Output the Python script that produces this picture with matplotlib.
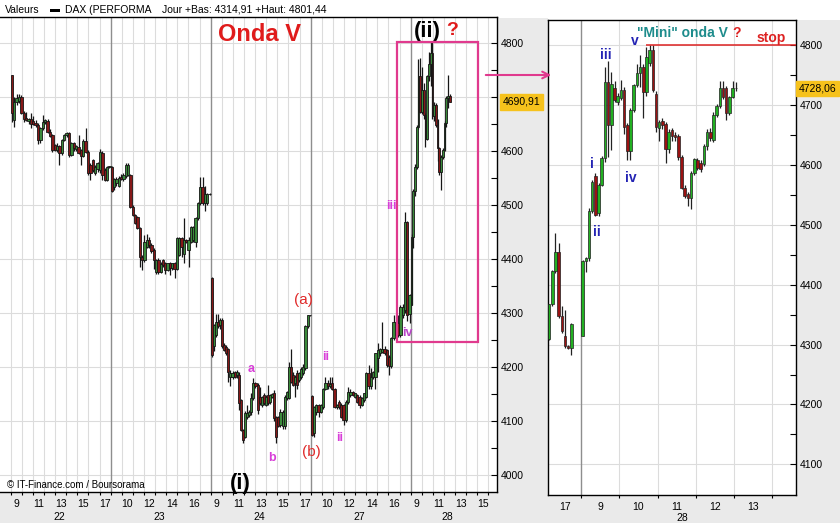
import matplotlib
matplotlib.use('Agg')
import matplotlib.pyplot as plt
import numpy as np
from matplotlib.patches import Rectangle, FancyArrowPatch
from matplotlib.transforms import blended_transform_factory

# ---------------- data (O, H, L, C) ----------------
day22 = [
    (4741, 4741, 4654, 4670), (4657, 4700, 4645, 4690), (4690, 4706, 4686, 4698),
    (4692, 4706, 4688, 4700), (4700, 4704, 4668, 4670), (4670, 4674, 4654, 4660),
    (4662, 4673, 4655, 4657), (4656, 4662, 4650, 4660), (4660, 4670, 4642, 4650),
    (4655, 4664, 4648, 4650), (4652, 4658, 4645, 4648), (4648, 4652, 4613, 4620),
    (4620, 4645, 4615, 4642), (4642, 4667, 4638, 4654), (4654, 4660, 4650, 4657),
    (4656, 4660, 4634, 4636), (4636, 4640, 4625, 4627), (4630, 4632, 4598, 4602),
    (4611, 4613, 4600, 4602), (4602, 4614, 4598, 4610), (4610, 4612, 4574, 4596),
    (4596, 4622, 4592, 4620), (4620, 4632, 4618, 4630), (4630, 4636, 4626, 4633),
    (4633, 4635, 4588, 4593), (4593, 4616, 4590, 4614), (4614, 4617, 4600, 4605),
    (4603, 4612, 4600, 4610), (4608, 4630, 4594, 4596), (4602, 4604, 4574, 4591),
    (4591, 4622, 4588, 4619), (4619, 4642, 4596, 4599), (4599, 4601, 4555, 4559),
    (4574, 4578, 4546, 4560), (4583, 4586, 4562, 4565), (4560, 4574, 4556, 4571),
    (4566, 4580, 4562, 4578), (4565, 4603, 4560, 4599), (4597, 4600, 4546, 4555),
    (4565, 4568, 4544, 4546), (4546, 4573, 4544, 4571), (4571, 4573, 4568, 4571),
]
day23 = [
    (4571, 4573, 4524, 4525), (4534, 4550, 4528, 4549), (4540, 4552, 4535, 4548),
    (4536, 4553, 4533, 4550), (4552, 4558, 4546, 4549), (4549, 4560, 4545, 4555),
    (4554, 4577, 4550, 4574), (4556, 4578, 4553, 4574), (4555, 4557, 4495, 4497),
    (4497, 4500, 4479, 4481), (4481, 4484, 4464, 4466), (4478, 4480, 4455, 4457),
    (4457, 4459, 4386, 4404), (4404, 4408, 4380, 4398), (4398, 4444, 4395, 4432),
    (4423, 4446, 4420, 4435), (4435, 4440, 4420, 4425), (4426, 4430, 4412, 4414),
    (4417, 4420, 4382, 4398), (4375, 4400, 4372, 4398), (4398, 4402, 4373, 4376),
    (4376, 4395, 4374, 4390), (4398, 4400, 4385, 4389), (4392, 4395, 4373, 4380),
    (4380, 4393, 4378, 4392), (4393, 4395, 4370, 4383), (4383, 4393, 4380, 4392),
    (4392, 4394, 4364, 4382), (4382, 4440, 4380, 4438), (4407, 4440, 4405, 4438),
    (4438, 4440, 4404, 4423), (4410, 4475, 4392, 4435), (4435, 4437, 4430, 4432),
    (4417, 4440, 4386, 4435), (4432, 4462, 4430, 4460), (4435, 4462, 4432, 4460),
    (4432, 4478, 4422, 4475), (4475, 4505, 4472, 4503), (4503, 4552, 4500, 4534),
    (4534, 4552, 4500, 4503), (4503, 4535, 4488, 4521), (4503, 4523, 4500, 4521),
    (4520, 4522, 4518, 4520),
]
day24 = [
    (4364, 4366, 4218, 4222), (4238, 4280, 4230, 4278), (4259, 4299, 4255, 4284),
    (4284, 4299, 4272, 4275), (4278, 4290, 4270, 4287), (4287, 4290, 4236, 4238),
    (4241, 4244, 4230, 4232), (4237, 4240, 4222, 4225), (4234, 4236, 4173, 4191),
    (4182, 4195, 4164, 4188), (4182, 4192, 4178, 4188), (4190, 4192, 4180, 4182),
    (4185, 4195, 4180, 4191), (4185, 4190, 4120, 4133), (4139, 4141, 4081, 4083),
    (4083, 4085, 4059, 4065), (4071, 4118, 4068, 4114), (4108, 4130, 4104, 4114),
    (4111, 4120, 4108, 4117), (4117, 4151, 4112, 4142), (4142, 4179, 4138, 4170),
    (4170, 4172, 4162, 4164), (4167, 4170, 4113, 4120), (4145, 4163, 4130, 4133),
    (4129, 4146, 4125, 4145), (4148, 4152, 4130, 4133), (4130, 4148, 4128, 4145),
    (4148, 4167, 4130, 4133), (4135, 4150, 4132, 4148), (4145, 4152, 4142, 4150),
    (4151, 4157, 4100, 4105), (4108, 4110, 4059, 4071), (4108, 4110, 4088, 4090),
    (4092, 4123, 4088, 4117), (4090, 4120, 4085, 4117), (4090, 4148, 4086, 4145),
    (4142, 4155, 4138, 4154), (4142, 4210, 4140, 4200), (4200, 4234, 4170, 4173),
    (4185, 4190, 4165, 4167), (4170, 4185, 4145, 4182), (4188, 4195, 4160, 4167),
    (4176, 4190, 4172, 4188), (4182, 4200, 4178, 4197), (4188, 4205, 4186, 4200),
    (4198, 4278, 4195, 4275), (4275, 4297, 4272, 4296), (4296, 4297, 4294, 4296),
]
day27 = [
    (4146, 4148, 4072, 4074), (4077, 4128, 4071, 4126), (4117, 4132, 4112, 4130),
    (4130, 4132, 4108, 4117), (4117, 4132, 4114, 4130), (4126, 4162, 4122, 4160),
    (4160, 4182, 4158, 4170), (4170, 4175, 4160, 4164), (4164, 4182, 4162, 4168),
    (4170, 4182, 4158, 4160), (4160, 4162, 4124, 4126), (4126, 4132, 4122, 4130),
    (4135, 4138, 4122, 4126), (4130, 4133, 4105, 4108), (4130, 4132, 4093, 4102),
    (4102, 4138, 4098, 4136), (4136, 4163, 4132, 4154), (4148, 4160, 4145, 4154),
    (4154, 4156, 4146, 4148), (4145, 4152, 4142, 4151), (4148, 4150, 4134, 4136),
    (4145, 4148, 4124, 4130), (4130, 4145, 4128, 4142), (4139, 4152, 4136, 4151),
    (4145, 4190, 4142, 4188), (4188, 4204, 4160, 4164), (4164, 4198, 4160, 4182),
    (4182, 4193, 4178, 4191), (4182, 4226, 4160, 4225), (4216, 4244, 4191, 4231),
    (4225, 4236, 4220, 4234), (4228, 4284, 4225, 4234), (4234, 4238, 4222, 4225),
    (4231, 4234, 4200, 4204), (4219, 4222, 4185, 4201), (4201, 4255, 4198, 4253),
    (4253, 4296, 4250, 4284), (4259, 4286, 4255, 4284), (4281, 4296, 4255, 4259),
    (4259, 4314, 4256, 4312), (4296, 4316, 4290, 4312), (4305, 4487, 4300, 4468),
    (4468, 4470, 4285, 4296), (4298, 4336, 4282, 4333),
]
day28 = [
    (4315, 4447, 4314, 4440), (4440, 4530, 4421, 4525), (4525, 4575, 4517, 4571),
    (4571, 4648, 4566, 4645), (4645, 4771, 4640, 4739), (4739, 4773, 4670, 4673),
    (4673, 4756, 4668, 4713), (4713, 4726, 4660, 4666), (4666, 4670, 4608, 4623),
    (4623, 4740, 4620, 4738), (4738, 4784, 4730, 4762), (4762, 4802, 4720, 4781),
    (4781, 4801, 4660, 4664), (4664, 4690, 4655, 4685), (4685, 4688, 4645, 4648),
    (4648, 4660, 4582, 4605), (4605, 4608, 4556, 4562), (4562, 4592, 4528, 4589),
    (4589, 4605, 4585, 4602), (4602, 4655, 4600, 4651), (4651, 4701, 4645, 4698),
    (4698, 4741, 4680, 4701), (4701, 4705, 4690, 4691),
]
left_days = [day22, day23, day24, day27, day28]
left_day_labels = ['22', '23', '24', '27', '28']
left_hour_labels = ['9', '11', '13', '15', '17', '10', '12', '14', '16',
                    '9', '11', '13', '15', '17', '10', '12', '14', '16',
                    '9', '11', '13', '15']
left_price_ticks = [4000, 4100, 4200, 4300, 4400, 4500, 4600, 4700, 4800]

# right panel (zoom): tail of the 27th and morning of the 28th
zoom27 = [
    (4310, 4368, 4308, 4367), (4367, 4425, 4365, 4423), (4423, 4487, 4420, 4455),
    (4455, 4470, 4345, 4348), (4348, 4365, 4320, 4323), (4315, 4358, 4295, 4297),
    (4297, 4299, 4293, 4295), (4295, 4336, 4282, 4335),
]
zoom28 = [
    (4315, 4442, 4315, 4439), (4439, 4447, 4421, 4444), (4444, 4528, 4440, 4524),
    (4524, 4575, 4520, 4571), (4581, 4586, 4515, 4517), (4520, 4570, 4515, 4567),
    (4567, 4615, 4565, 4612), (4612, 4764, 4605, 4739), (4739, 4773, 4614, 4667),
    (4667, 4756, 4625, 4736), (4728, 4740, 4705, 4709), (4706, 4720, 4700, 4715),
    (4712, 4742, 4708, 4726), (4726, 4730, 4652, 4664), (4667, 4670, 4608, 4623),
    (4623, 4695, 4608, 4692), (4692, 4736, 4688, 4734), (4734, 4768, 4730, 4753),
    (4753, 4784, 4730, 4764), (4764, 4768, 4678, 4722), (4722, 4798, 4715, 4781),
    (4770, 4801, 4765, 4792), (4792, 4801, 4722, 4726), (4719, 4724, 4655, 4663),
    (4662, 4676, 4640, 4672), (4674, 4678, 4660, 4667), (4669, 4672, 4603, 4626),
    (4626, 4660, 4620, 4656), (4658, 4662, 4640, 4648), (4650, 4655, 4640, 4647),
    (4649, 4652, 4608, 4614), (4614, 4617, 4560, 4562), (4562, 4566, 4545, 4548),
    (4551, 4555, 4531, 4545), (4545, 4590, 4527, 4587), (4587, 4612, 4584, 4610),
    (4608, 4612, 4592, 4595), (4604, 4608, 4588, 4593), (4601, 4635, 4598, 4631),
    (4631, 4660, 4625, 4656), (4656, 4662, 4640, 4645), (4642, 4688, 4638, 4684),
    (4684, 4702, 4680, 4698), (4698, 4740, 4695, 4728), (4728, 4740, 4710, 4714),
    (4728, 4732, 4676, 4687), (4687, 4716, 4684, 4714), (4714, 4740, 4712, 4728),
    (4728, 4738, 4724, 4728),
]
right_hour_labels = ['17', '9', '10', '11', '12', '13']
right_price_ticks = [4100, 4200, 4300, 4400, 4500, 4600, 4700, 4800]
last_left = 4690.91
last_right = 4728.06
stop_level = 4800

# ---------------- layout helpers ----------------
W, H = 840, 523
def fx(p): return p / W
def fy(p): return 1 - p / H

plt.rcParams['font.family'] = ['Liberation Sans', 'DejaVu Sans']
fig = plt.figure(figsize=(8.4, 5.23), dpi=100, facecolor='white')

GRAY = '#EAEAEA'
for (x0, y0, x1, y1) in [(497, 17.5, 548, 523), (0, 492, 497, 523),
                         (796, 20, 840, 523), (548, 495, 796, 523)]:
    fig.patches.append(Rectangle((fx(x0), fy(y1)), (x1 - x0) / W, (y1 - y0) / H,
                                 transform=fig.transFigure, facecolor=GRAY,
                                 edgecolor='none', zorder=-5))

ax = fig.add_axes([0, fy(492), 497 / W, (492 - 17.5) / H])
ax2 = fig.add_axes([fx(548), fy(495), 248 / W, 475 / H])

GRID = '#DCDCDC'
SEP = '#8E8E8E'
TICKFS = 7.5


def candles(a, xs, data, width, up, down, edge, elw):
    d = np.array(data, dtype=float)
    o, h, l, c = d[:, 0], d[:, 1], d[:, 2], d[:, 3]
    a.vlines(xs, l, h, color=edge, lw=0.9, zorder=2)
    cols = np.where(c >= o, up, down)
    bottoms = np.minimum(o, c)
    heights = np.maximum(np.abs(c - o), 1.2)
    a.bar(xs, heights, width, bottom=bottoms, color=cols, edgecolor=edge,
          linewidth=elw, zorder=3)


# ---------------- left panel ----------------
DAYLEN = 9.0
XL = (-0.96, 43.77)
ax.set_xlim(*XL)
ax.set_ylim(3968.5, 4847.2)

for y in left_price_ticks:
    ax.axhline(y, color=GRID, lw=0.8, zorder=0)
for k in range(5):
    for j in range(9):
        x = k * DAYLEN + j
        if x > XL[1]:
            continue
        if j == 0 and k > 0:
            ax.axvline(x, color=SEP, lw=1.0, zorder=1)
        else:
            ax.axvline(x, color=GRID, lw=0.8, zorder=0)

for k, day in enumerate(left_days):
    n = len(day)
    span = DAYLEN if k < 4 else 3.6
    step = span / n
    xs = k * DAYLEN + (np.arange(n) + 0.5) * step
    candles(ax, xs, day, step * 1.0, '#3A8A3A', '#861818', '#161616', 0.6)

ax.spines['left'].set_visible(False)
for s in ['top', 'right', 'bottom']:
    ax.spines[s].set_color('black')
    ax.spines[s].set_linewidth(1.0)

ax.yaxis.tick_right()
ax.set_yticks(left_price_ticks)
# the 4700 label is hidden behind the last-price box in the reference
ax.set_yticklabels(['' if v == 4700 else str(v) for v in left_price_ticks], fontsize=TICKFS)
ax.set_yticks([v + 50 for v in left_price_ticks[:-1]], minor=True)
ax.tick_params(axis='y', which='both', direction='in', length=4, width=0.8, pad=3)

hour_ticks = [k * DAYLEN + j for k in range(5) for j in range(9) if k * DAYLEN + j <= XL[1]]
ax.set_xticks([0.5 + 2 * i for i in range(len(left_hour_labels))])
ax.set_xticklabels(left_hour_labels, fontsize=TICKFS)
ax.set_xticks(hour_ticks, minor=True)
ax.tick_params(axis='x', which='major', length=0, pad=5)
ax.tick_params(axis='x', which='minor', direction='out', length=2.5, width=0.8)

bt = blended_transform_factory(ax.transData, ax.transAxes)
day_pos = [4.4, 13.4, 22.4, 31.4, 39.3]
for p, lab in zip(day_pos, left_day_labels):
    ax.text(p, -0.052, lab, transform=bt, ha='center', va='center',
            fontsize=TICKFS, clip_on=False)

bty = blended_transform_factory(ax.transAxes, ax.transData)
ax.text(1.012, last_left, '4690,91', transform=bty, ha='left', va='center',
        fontsize=TICKFS, clip_on=False, zorder=10,
        bbox=dict(boxstyle='square,pad=0.25', fc='#F6C21C', ec='#F6C21C'))

RED = '#E01B1B'
MAG = '#D83ED8'
ax.text(22.39, 4816, 'Onda V', color=RED, fontsize=17, fontweight='bold',
        ha='center', va='center')
ax.text(37.52, 4822, '(ii)', color='black', fontsize=16, fontweight='bold',
        ha='center', va='center', clip_on=False)
ax.text(39.72, 4823, '?', color=RED, fontsize=14, fontweight='bold',
        ha='center', va='center')
ax.text(20.64, 3985, '(i)', color='black', fontsize=16, fontweight='bold',
        ha='center', va='center', clip_on=False, zorder=6)
ax.text(26.31, 4324, '(a)', color='#E02A2A', fontsize=11, ha='center', va='center')
ax.text(27.03, 4042, '(b)', color='#E02A2A', fontsize=11, ha='center', va='center')
ax.text(21.63, 4196, 'a', color=MAG, fontsize=9, fontweight='bold', ha='center', va='center')
ax.text(23.52, 4031, 'b', color=MAG, fontsize=9, fontweight='bold', ha='center', va='center')
ax.text(28.38, 4218, 'ii', color=MAG, fontsize=9, fontweight='bold', ha='center', va='center')
ax.text(29.64, 4068, 'ii', color=MAG, fontsize=9, fontweight='bold', ha='center', va='center')
ax.text(34.25, 4498, 'iii', color=MAG, fontsize=9, fontweight='bold', ha='center',
        va='center', zorder=7)
ax.text(35.67, 4263, 'iv', color='#B844C8', fontsize=9, fontweight='bold', ha='center',
        va='center', zorder=7)

PINK = '#E03A8E'
ax.add_patch(Rectangle((34.8, 4247), 42.09 - 34.8, 4802.4 - 4247, fill=False,
                       edgecolor=PINK, lw=1.6, zorder=5))

# ---------------- right panel ----------------
XR = (-0.862, 5.614)
ax2.set_xlim(*XR)
ax2.set_ylim(4048.7, 4842.3)
for y in right_price_ticks:
    ax2.axhline(y, color=GRID, lw=0.8, zorder=0)
for j in range(0, 6):
    ax2.axvline(j, color=SEP if j == 0 else GRID, lw=1.0 if j == 0 else 0.8,
                zorder=1 if j == 0 else 0)

xs27 = -0.835 + np.arange(len(zoom27)) / 12.0
xs28 = (np.arange(len(zoom28)) + 0.5) / 12.0
candles(ax2, xs27, zoom27, 0.8 / 12, '#22B022', '#9A1212', '#222222', 0.5)
candles(ax2, xs28, zoom28, 0.8 / 12, '#22B022', '#9A1212', '#222222', 0.5)

for s in ax2.spines.values():
    s.set_color('black')
    s.set_linewidth(1.0)

ax2.yaxis.tick_right()
ax2.set_yticks(right_price_ticks)
ax2.set_yticklabels([str(v) for v in right_price_ticks], fontsize=TICKFS)
ax2.set_yticks([v + 50 for v in right_price_ticks[:-1]], minor=True)
ax2.tick_params(axis='y', which='both', direction='in', length=4, width=0.8, pad=3)
ax2.set_xticks([-0.42, 0.5, 1.5, 2.5, 3.5, 4.5])
ax2.set_xticklabels(right_hour_labels, fontsize=TICKFS)
ax2.set_xticks([0, 1, 2, 3, 4, 5], minor=True)
ax2.tick_params(axis='x', which='major', length=0, pad=5)
ax2.tick_params(axis='x', which='minor', direction='out', length=2.5, width=0.8)
bt2 = blended_transform_factory(ax2.transData, ax2.transAxes)
ax2.text(2.65, -0.048, '28', transform=bt2, ha='center', va='center',
         fontsize=TICKFS, clip_on=False)

bty2 = blended_transform_factory(ax2.transAxes, ax2.transData)
ax2.text(1.012, last_right, '4728,06', transform=bty2, ha='left', va='center',
         fontsize=TICKFS, clip_on=False, zorder=10,
         bbox=dict(boxstyle='square,pad=0.25', fc='#F6C21C', ec='#F6C21C'))

ax2.hlines(stop_level, 1.70, XR[1], color='#DD2222', lw=1.1, zorder=4)
ax2.text(2.66, 4820, '"Mini" onda V', color='#1E8C8C', fontsize=10,
         fontweight='bold', ha='center', va='center')
ax2.text(4.05, 4820, '?', color='#DD2222', fontsize=10, fontweight='bold',
         ha='center', va='center')
ax2.text(4.96, 4812, 'stop', color='#DD2222', fontsize=10, fontweight='bold',
         ha='center', va='center')
BLUE = '#2424B4'
for (x, y, t) in [(1.41, 4807, 'v'), (0.65, 4784, 'iii'), (0.29, 4602, 'i'),
                  (0.42, 4488, 'ii'), (1.31, 4578, 'iv')]:
    ax2.text(x, y, t, color=BLUE, fontsize=10, fontweight='bold',
             ha='center', va='center', zorder=6)

# ---------------- header / figure-level items ----------------
fig.text(fx(5), fy(10), 'Valeurs', fontsize=TICKFS, va='center', ha='left')
fig.patches.append(Rectangle((fx(50), fy(12)), 10 / W, 3 / H,
                             transform=fig.transFigure, facecolor='black',
                             edgecolor='none', zorder=3))
fig.text(fx(65), fy(10), 'DAX (PERFORMA', fontsize=TICKFS, va='center', ha='left')
fig.text(fx(162), fy(10), 'Jour +Bas: 4314,91 +Haut: 4801,44', fontsize=TICKFS,
         va='center', ha='left')
fig.text(fx(7), fy(485), '\u00a9 IT-Finance.com / Boursorama', fontsize=7,
         va='center', ha='left', zorder=10)

arrow = FancyArrowPatch((fx(483), fy(75)), (fx(554), fy(75)),
                        transform=fig.transFigure, arrowstyle='->',
                        mutation_scale=12, color=PINK, lw=1.5, zorder=10)
fig.add_artist(arrow)

fig.savefig('out.png', dpi=100, facecolor=fig.get_facecolor())
